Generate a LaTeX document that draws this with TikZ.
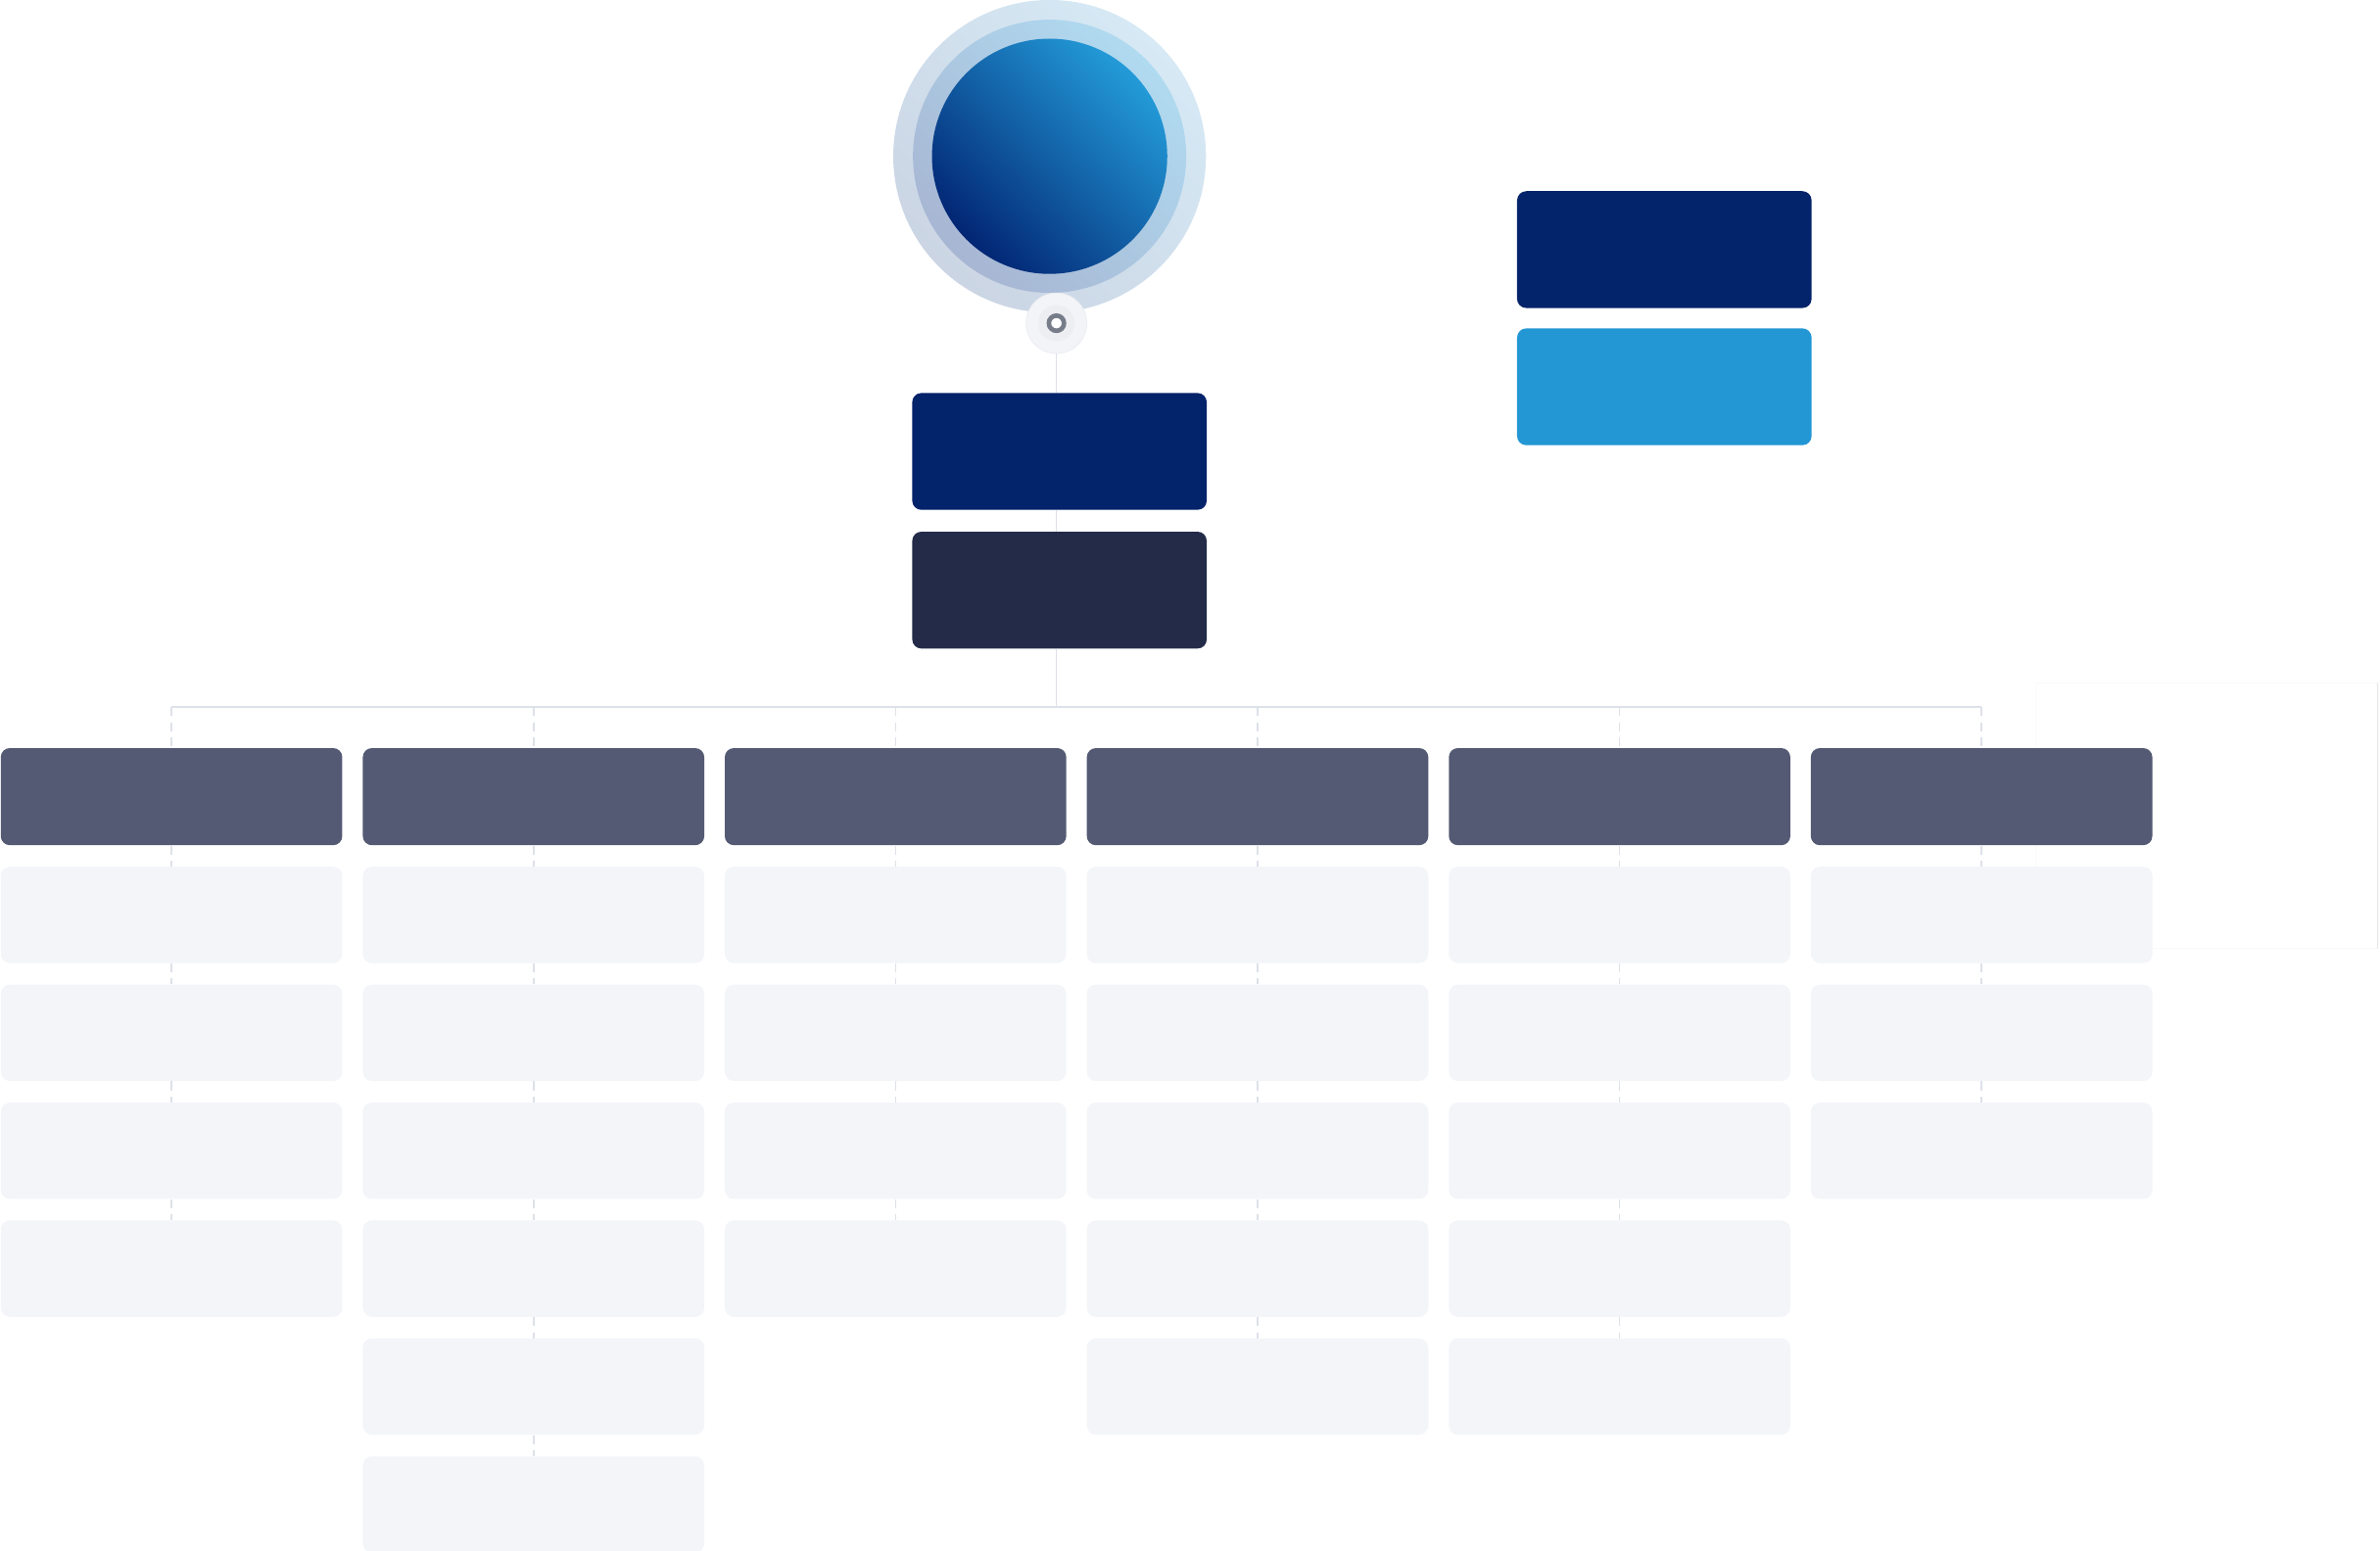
\documentclass[tikz,border=0pt]{standalone}
\usetikzlibrary{positioning}
\definecolor{navy}{HTML}{03236A}
\definecolor{slate}{HTML}{232B49}
\definecolor{sky}{HTML}{2396D4}
\definecolor{headgray}{HTML}{545A73}
\definecolor{cellgray}{HTML}{F3F5F9}
\definecolor{linegray}{HTML}{DDE1E8}
\begin{document}
\begin{tikzpicture}[x=1pt,y=1pt,
    card/.style={rounded corners=6pt, minimum width=225pt, inner sep=0pt},
    head/.style={card, minimum height=64pt, fill=headgray},
    cell/.style={card, minimum height=63.5pt, fill=cellgray},
    topbox/.style={rounded corners=6pt, minimum width=194pt, minimum height=77pt, inner sep=0pt},
    link/.style={draw=linegray, line width=1pt},
    dlink/.style={draw=linegray, line width=1pt, dash pattern=on 6pt off 4pt}]
    \useasboundingbox (0,0) rectangle (1568,1022);
    \draw[draw=black!2, fill=white] (1341,397) rectangle (1567,572);
    \draw[black!9] (1566.5,397) -- (1566.5,572);
    \node[circle, minimum size=206pt, inner sep=0pt, top color={rgb,255:red,214;green,233;blue,245}, bottom color={rgb,255:red,203;green,213;blue,228}, shading angle=-45] (halo) at (691.5,919) {};
    \node[circle, minimum size=180pt, inner sep=0pt, top color={rgb,255:red,176;green,218;blue,240}, bottom color={rgb,255:red,167;green,182;blue,211}, shading angle=-45] (ring) at (halo) {};
    \node[circle, minimum size=155pt, inner sep=0pt, top color={rgb,255:red,35;green,155;blue,216}, bottom color={rgb,255:red,2;green,38;blue,116}, shading angle=-45] (globe) at (halo) {};
    \node[circle, minimum size=40pt, inner sep=0pt, fill={rgb,255:red,243;green,244;blue,247}, draw={rgb,255:red,232;green,235;blue,240}] (knob) at (696,809) {};
    \node[circle, minimum size=24pt, inner sep=0pt, fill={rgb,255:red,236;green,238;blue,242}] at (knob) {};
    \node[circle, minimum size=10pt, inner sep=0pt, draw={rgb,255:red,119;green,124;blue,137}, line width=3pt, fill=white] at (knob) {};
    \node[topbox, fill=navy] (lead) at (698,724.5) {};
    \node[topbox, fill=slate, below=14pt of lead] (office) {};
    \node[topbox, fill=navy] (aside) at (1096.5,857.5) {};
    \node[topbox, fill=sky, below=13pt of aside] (desk) {};
    \coordinate (bus) at (696,556);
    \draw[link] (knob) -- (knob |- lead.north);
    \draw[link] (lead.south -| knob) -- (office.north -| knob);
    \draw[link] (office.south -| knob) -- (bus);
    \foreach \c/\n in {1/4,2/6,3/4,4/5,5/5,6/3}{
        \node[head, alias=cl\c-0] (hd\c) at ({113+238.5*(\c-1)},497) {};
        \draw[dlink] (hd\c.north |- bus) -- (hd\c.north);
        \foreach \r in {1,...,\n}{
            \pgfmathtruncatemacro\p{\r-1}
            \node[cell, below=13.8pt of cl\c-\p] (cl\c-\r) {};
            \draw[dlink] (cl\c-\p.south) -- (cl\c-\r.north);
        }
    }
    \draw[link] (hd1.north |- bus) -- (hd6.north |- bus);
\end{tikzpicture}
\end{document}
